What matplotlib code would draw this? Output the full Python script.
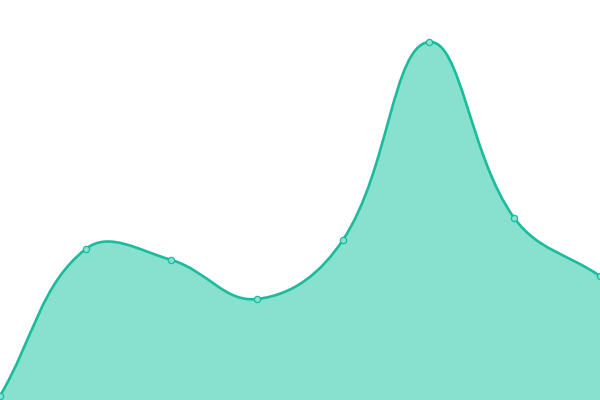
import numpy as np
import matplotlib
matplotlib.use("Agg")
import matplotlib.pyplot as plt
from matplotlib.path import Path
from matplotlib.patches import PathPatch

# data
labels = ["1", "2", "3", "4", "5", "6", "7", "8"]
values = [4, 151, 140, 101, 160, 358, 182, 124]

line_color = "#1abc9c"
fill_color = "#88e0cf"
tension = 0.4

fig = plt.figure(figsize=(6, 4), dpi=100)
ax = fig.add_axes([0, 0, 1, 1])
x = np.arange(len(values))
ax.set_xlim(0, len(values) - 1)
ax.set_ylim(0, 400)
ax.axis("off")

# smooth curve (cardinal spline like chart.js), computed in pixel space
pts = ax.transData.transform(np.column_stack([x, values]))
n = len(pts)
cp_in = pts.copy()
cp_out = pts.copy()
for i in range(n):
    prev = pts[max(i - 1, 0)]
    nxt = pts[min(i + 1, n - 1)]
    d01 = np.hypot(*(pts[i] - prev))
    d12 = np.hypot(*(nxt - pts[i]))
    tot = d01 + d12
    if tot == 0:
        continue
    fa = tension * d01 / tot
    fb = tension * d12 / tot
    cp_in[i] = pts[i] - fa * (nxt - prev)
    cp_out[i] = pts[i] + fb * (nxt - prev)

verts = [pts[0]]
codes = [Path.MOVETO]
for i in range(n - 1):
    verts += [cp_out[i], cp_in[i + 1], pts[i + 1]]
    codes += [Path.CURVE4] * 3

inv = ax.transData.inverted()
curve = inv.transform(np.array(verts))

# area under the curve
base = ax.get_ylim()[0]
area_verts = list(curve) + [(x[-1], base), (x[0], base), tuple(curve[0])]
area_codes = codes + [Path.LINETO, Path.LINETO, Path.CLOSEPOLY]
ax.add_patch(PathPatch(Path(area_verts, area_codes), facecolor=fill_color,
                       edgecolor="none", zorder=1))
ax.add_patch(PathPatch(Path(curve, codes), facecolor="none",
                       edgecolor=line_color, linewidth=1.9, zorder=2,
                       capstyle="round", joinstyle="round"))

ax.plot(x, values, linestyle="none", marker="o", markersize=4.5,
        markerfacecolor=fill_color, markeredgecolor=line_color,
        markeredgewidth=0.9, zorder=3, clip_on=False)

fig.savefig("out.png", dpi=100)
